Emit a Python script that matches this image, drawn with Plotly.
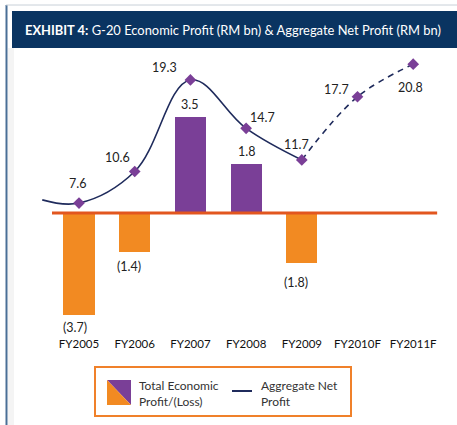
import plotly.graph_objects as go

# ---------------- data ----------------
categories = ["FY2005", "FY2006", "FY2007", "FY2008", "FY2009", "FY2010F", "FY2011F"]
economic_profit = [-3.7, -1.4, 3.5, 1.8, -1.8]          # FY2005..FY2009
net_profit_actual = [7.6, 10.6, 19.3, 14.7, 11.7]        # FY2005..FY2009
net_profit_forecast = [11.7, 17.7, 20.8]                 # FY2009..FY2011F
net_profit_leadin = 7.9                                  # curve start left of FY2005

# ---------------- styles ----------------
PURPLE = "#7a3f97"
ORANGE = "#f28a22"
ZERO = "#e2561f"
NAVY = "#1f2b5c"
BANNER = "#0a3461"
FONT = "Lato"

W, H = 457, 425
L, R, T, B = 30, 12, 55, 90
PW, PH = W - L - R, H - T - B


def px(x):
    return (x - L) / PW


def py(y):
    return (H - B - y) / PH


xs = list(range(len(categories)))
bar_x = xs[:len(economic_profit)]
act_x = xs[:len(net_profit_actual)]
fc_x = xs[len(net_profit_actual) - 1:]

fig = go.Figure()

fig.add_trace(go.Bar(
    x=bar_x, y=economic_profit, width=0.56,
    marker=dict(color=[PURPLE if v >= 0 else ORANGE for v in economic_profit], line=dict(width=0)),
    yaxis="y", showlegend=False, hoverinfo="skip"))

# lead-in (no marker) + actual
fig.add_trace(go.Scatter(
    x=[-0.66] + act_x, y=[net_profit_leadin] + net_profit_actual,
    mode="lines", line=dict(color=NAVY, width=1.6, shape="spline", smoothing=1.1),
    yaxis="y2", showlegend=False, hoverinfo="skip"))
fig.add_trace(go.Scatter(
    x=fc_x, y=net_profit_forecast,
    mode="lines", line=dict(color=NAVY, width=1.6, shape="spline", smoothing=1.0, dash="6px,5px"),
    yaxis="y2", showlegend=False, hoverinfo="skip"))
all_net = net_profit_actual + net_profit_forecast[1:]
fig.add_trace(go.Scatter(
    x=xs, y=all_net, mode="markers",
    marker=dict(symbol="diamond", size=9, color=PURPLE),
    yaxis="y2", showlegend=False, hoverinfo="skip"))

annotations = []
# line labels: offsets in px (dx, dy_down)
line_offsets = [(-2, -20), (-17, -14), (-26, -12), (16, -11), (-5, -15), (-21, -7), (-3, 23)]
for x, v, (dx, dy) in zip(xs, all_net, line_offsets):
    annotations.append(dict(x=x, y=v, xref="x", yref="y2", text=f"{v:.1f}", showarrow=False,
                            xshift=dx, yshift=-dy, font=dict(family=FONT, size=12.5, color="#222")))
bar_offsets = [(-4, 13), (-6, 15), (-1, -12), (0, -12), (-6, 20)]
for x, v, (dx, dy) in zip(bar_x, economic_profit, bar_offsets):
    t = f"{v:.1f}" if v >= 0 else f"({abs(v):.1f})"
    annotations.append(dict(x=x, y=v, xref="x", yref="y", text=t, showarrow=False,
                            xshift=dx, yshift=-dy, font=dict(family=FONT, size=12.5, color="#222")))

# title
annotations.append(dict(x=px(23), y=py(30), xref="paper", yref="paper", xanchor="left", yanchor="middle",
                        text="<b>EXHIBIT 4:</b> G-20 Economic Profit (RM bn) & Aggregate Net Profit (RM bn)",
                        showarrow=False, font=dict(family=FONT, size=12.9, color="white")))
# legend texts
annotations.append(dict(x=px(137), y=py(393), xref="paper", yref="paper", xanchor="left", yanchor="middle",
                        align="left", text="Total Economic<br>Profit/(Loss)", showarrow=False,
                        font=dict(family=FONT, size=12, color="#333")))
annotations.append(dict(x=px(259), y=py(393), xref="paper", yref="paper", xanchor="left", yanchor="middle",
                        align="left", text="Aggregate Net<br>Profit", showarrow=False,
                        font=dict(family=FONT, size=12, color="#333")))

shapes = [
    # faint shadow by the left frame
    dict(type="rect", xref="paper", yref="paper", x0=px(8), x1=px(14), y0=py(48), y1=py(425),
         fillcolor="#f4f4f4", line=dict(width=0), layer="below"),
    # frame
    dict(type="line", xref="paper", yref="paper", x0=px(6.5), x1=px(6.5), y0=py(5), y1=py(425),
         line=dict(color="#4a6f96", width=2)),
    dict(type="line", xref="paper", yref="paper", x0=px(6), x1=px(457), y0=py(5), y1=py(5),
         line=dict(color="#c8d0d8", width=1)),
    # title banner
    dict(type="rect", xref="paper", yref="paper", x0=px(12), x1=px(460), y0=py(11), y1=py(48),
         fillcolor=BANNER, line=dict(width=0), layer="below"),
    # zero line
    dict(type="line", xref="x", yref="y", x0=-0.485, x1=6.43, y0=0, y1=0,
         line=dict(color=ZERO, width=3)),
    # legend box
    dict(type="rect", xref="paper", yref="paper", x0=px(95), x1=px(351), y0=py(367), y1=py(416),
         line=dict(color="#f0812a", width=2), fillcolor="white"),
    # legend swatch triangles
    dict(type="path", xref="paper", yref="paper",
         path=f"M {px(107)} {py(380)} L {px(131)} {py(380)} L {px(131)} {py(405)} Z",
         fillcolor=PURPLE, line=dict(width=0)),
    dict(type="path", xref="paper", yref="paper",
         path=f"M {px(107)} {py(380)} L {px(107)} {py(405)} L {px(131)} {py(405)} Z",
         fillcolor=ORANGE, line=dict(width=0)),
    dict(type="line", xref="paper", yref="paper", x0=px(232), x1=px(252), y0=py(391), y1=py(391),
         line=dict(color=NAVY, width=2)),
]

fig.update_layout(
    width=W, height=H, margin=dict(l=L, r=R, t=T, b=B, pad=0),
    paper_bgcolor="white", plot_bgcolor="white",
    bargap=0,
    xaxis=dict(range=[-0.88, 6.571], tickvals=xs, ticktext=categories, showgrid=False, zeroline=False,
               showline=False, ticks="", tickfont=dict(family=FONT, size=11.5, color="#111")),
    yaxis=dict(range=[-4.436, 5.745], visible=False, showgrid=False, zeroline=False),
    yaxis2=dict(range=[-4.94, 21.67], overlaying="y", visible=False, showgrid=False, zeroline=False),
    shapes=shapes, annotations=annotations,
)

fig.write_html("out.html", config={"displayModeBar": False},
               post_script="document.body.style.margin='0';document.body.style.overflow='hidden';")
